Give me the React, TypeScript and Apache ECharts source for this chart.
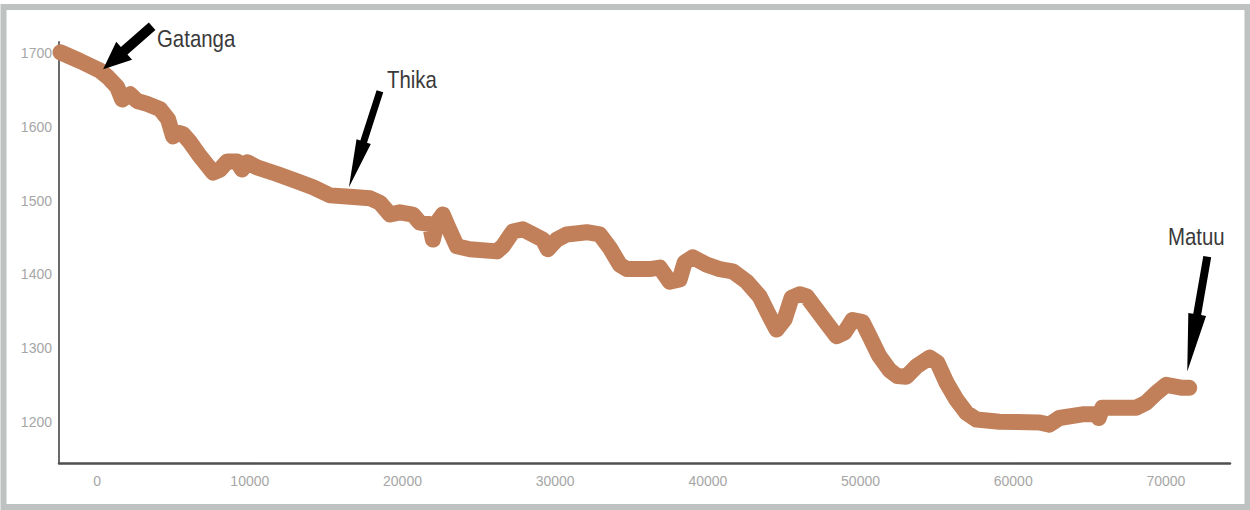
import React, { useEffect, useRef } from "react";
import * as echarts from "echarts";

// Distance along route (m) and elevation (m), read from the profile
const distances = [
  -2400, -1100, 200, 720, 1310, 1640, 2160, 2620, 3270, 4120, 4650, 4970, 5300, 5630, 6090, 6740,
  7590, 8050, 8510, 9160, 9490, 9820, 10470, 11780, 13090, 14140, 15250, 16560, 17870, 18520,
  19180, 19830, 20680, 21140, 21790, 21990, 22250, 22640, 22970, 23560, 24410, 26180, 26570,
  27230, 27880, 28530, 29190, 29520, 30100, 30760, 32070, 32920, 33570, 34230, 34690, 36190,
  36850, 37500, 38150, 38480, 39010, 39920, 40770, 41620, 42540, 43390, 44040, 44500, 45030,
  45480, 46010, 46470, 47120, 47770, 48430, 48950, 49480, 50130, 50590, 51200, 51900, 52400,
  53000, 53660, 54520, 55040, 55630, 56280, 56940, 57590, 59100, 61720, 62370, 63020, 64530,
  65440, 65600, 65840, 68060, 68720, 69370, 70030, 71080, 71530,
];
const elevations = [
  1701, 1689, 1676, 1667, 1654, 1637, 1644, 1635, 1631, 1624, 1610, 1587, 1592, 1590, 1579, 1560,
  1538, 1542, 1553, 1553, 1542, 1552, 1545, 1536, 1526, 1518, 1507, 1505, 1503, 1497,
  1481, 1484, 1481, 1470, 1468, 1447, 1470, 1481, 1465, 1438, 1434, 1431, 1438,
  1458, 1461, 1454, 1447, 1434, 1447, 1454, 1457, 1454, 1436, 1413, 1407, 1407,
  1409, 1390, 1393, 1416, 1423, 1413, 1407, 1404, 1390, 1370, 1343, 1325, 1339,
  1368, 1373, 1370, 1352, 1334, 1316, 1321, 1338, 1335, 1316, 1290, 1270, 1262,
  1261, 1275, 1287, 1280, 1253, 1230, 1212, 1203, 1200, 1199, 1196, 1205, 1210,
  1210, 1205, 1219, 1219, 1226, 1239, 1250, 1246, 1246,
];

// Annotations: place names and the profile points their arrows point to
const placeNames = ["Gatanga", "Thika", "Matuu"];
const placeDist = [390, 16490, 71400];
const placeElev = [1678, 1518, 1268];

export default function App() {
  const ref = useRef<HTMLDivElement>(null);

  useEffect(() => {
    if (!ref.current) return;
    const chart = echarts.init(ref.current, null, { renderer: "svg" });
    const labelFont = "Liberation Sans";
    chart.setOption({
      animation: false,
      backgroundColor: "#ffffff",
      grid: { left: 59, right: 20, top: 42, bottom: 47, containLabel: false },
      xAxis: {
        type: "value",
        min: -2500,
        max: 74200,
        splitNumber: 8,
        axisLine: { show: true, onZero: false, lineStyle: { color: "#505050", width: 2.5 } },
        axisTick: { show: false },
        splitLine: { show: false },
        axisLabel: {
          color: "#a6a6a6",
          fontSize: 14,
          fontFamily: labelFont,
          margin: 11,
          showMinLabel: false,
          showMaxLabel: false,
          formatter: (v: number) => (v % 10000 === 0 ? String(v) : ""),
        },
      },
      yAxis: {
        type: "value",
        min: 1144,
        max: 1715,
        splitNumber: 5,
        axisLine: { show: true, onZero: false, lineStyle: { color: "#6a6a6a", width: 2 } },
        axisTick: { show: false },
        splitLine: { show: false },
        axisLabel: {
          color: "#a6a6a6",
          fontSize: 14,
          fontFamily: labelFont,
          margin: 7,
          showMinLabel: false,
          showMaxLabel: false,
          formatter: (v: number) => (v % 100 === 0 ? String(v) : ""),
        },
      },
      series: [
        {
          type: "line",
          data: distances.map((d, i) => [d, elevations[i]]),
          showSymbol: false,
          smooth: false,
          lineStyle: { color: "#C1805A", width: 16, cap: "round", join: "round" },
          z: 2,
        },
      ],
    });

    const arrowSpecs = [
      { tail: [49, -43], w: 10, hl: 28, hw: 24, text: [93, -30] },
      { tail: [31, -96], w: 7, hl: 48, hw: 15, text: [63, -107] },
      { tail: [20, -115], w: 8, hl: 58, hw: 18, text: [9, -135] },
    ];

    const arrowPoints = (tip: number[], tail: number[], w: number, hl: number, hw: number) => {
      const dx = tip[0] - tail[0];
      const dy = tip[1] - tail[1];
      const L = Math.hypot(dx, dy);
      const ux = dx / L;
      const uy = dy / L;
      const nx = -uy;
      const ny = ux;
      const bx = tip[0] - ux * hl;
      const by = tip[1] - uy * hl;
      return [
        [tail[0] + (nx * w) / 2, tail[1] + (ny * w) / 2],
        [bx + (nx * w) / 2, by + (ny * w) / 2],
        [bx + (nx * hw) / 2, by + (ny * hw) / 2],
        [tip[0], tip[1]],
        [bx - (nx * hw) / 2, by - (ny * hw) / 2],
        [bx - (nx * w) / 2, by - (ny * w) / 2],
        [tail[0] - (nx * w) / 2, tail[1] - (ny * w) / 2],
      ];
    };

    const graphics: any[] = [
      {
        type: "rect",
        shape: { x: 3.5, y: 7, width: 1244, height: 500 },
        style: { fill: "none", stroke: "#BEC2C0", lineWidth: 6 },
        z: 1,
        silent: true,
      },
    ];

    placeNames.forEach((name, i) => {
      const tip = chart.convertToPixel({ gridIndex: 0 }, [placeDist[i], placeElev[i]]) as number[];
      const s = arrowSpecs[i];
      const tail = [tip[0] + s.tail[0], tip[1] + s.tail[1]];
      graphics.push({
        type: "polygon",
        shape: { points: arrowPoints(tip, tail, s.w, s.hl, s.hw) },
        style: { fill: "#000000" },
        z: 100,
        silent: true,
      });
      graphics.push({
        type: "text",
        x: tip[0] + s.text[0],
        y: tip[1] + s.text[1],
        scaleX: 0.85,
        z: 100,
        silent: true,
        style: {
          text: name,
          x: 0,
          y: 0,
          fill: "#3a3a3a",
          font: "24px 'Liberation Sans', Arial, sans-serif",
          textAlign: "center",
          textVerticalAlign: "middle",
        },
      });
    });

    chart.setOption({ graphic: graphics });

    return () => chart.dispose();
  }, []);

  return (
    <div
      ref={ref}
      style={{ position: "absolute", left: 0, top: 0, width: 1250, height: 510 }}
    />
  );
}
